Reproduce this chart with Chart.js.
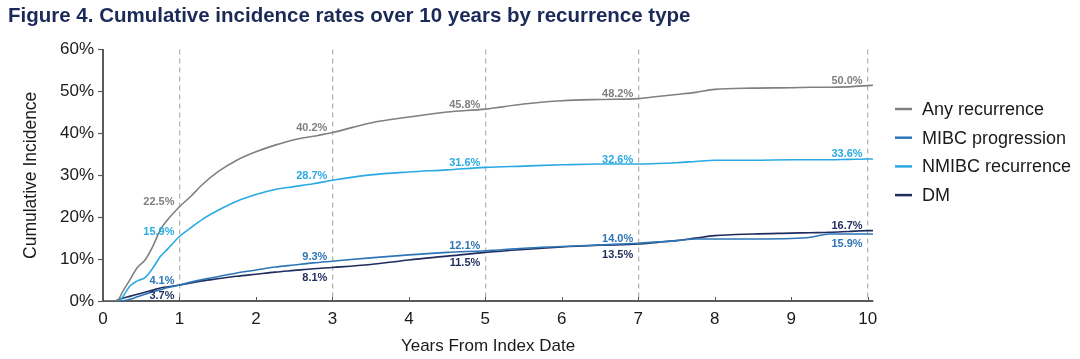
<!DOCTYPE html>
<html>
<head>
<meta charset="utf-8">
<title>Figure 4</title>
<script src="https://cdn.jsdelivr.net/npm/chart.js@4.4.0/dist/chart.umd.min.js"></script>
<style>
    html, body { margin: 0; padding: 0; background: #fff; }
    #wrap { width: 1080px; height: 359px; }
</style>
</head>
<body>
<div id="wrap"><canvas id="cif-chart" width="1080" height="359"></canvas></div>
<script>
// years from index date (x) and cumulative incidence in % (y)
const years = [0, 0.15, 0.2, 0.25, 0.35, 0.45, 0.55, 0.65, 0.75, 0.85, 1, 1.15, 1.3, 1.5, 1.75, 2, 2.25, 2.5, 2.75, 3,
    3.5, 4, 4.5, 5, 5.5, 6, 6.5, 7, 7.25, 7.5, 7.75, 8, 8.5, 9, 9.25, 9.5, 9.75, 10, 10.07];
const anyRecurrence = [0, 0, 0.3, 2, 5, 8, 9.8, 13, 17, 19.5, 22.5, 25, 27.8, 30.8, 33.6, 35.6, 37.2, 38.5, 39.3, 40.2,
    42.5, 43.9, 45.1, 45.8, 47.0, 47.8, 48.1, 48.3, 48.8, 49.3, 49.8, 50.5, 50.8, 50.9, 51.0, 51.0, 51.1, 51.4, 51.5];
const mibcProgression = [0, 0, 0, 0, 0.4, 1.0, 1.6, 2.2, 2.7, 3.2, 3.8, 4.5, 5.1, 5.8, 6.7, 7.4, 8.1, 8.6, 9.1, 9.5,
    10.3, 11.0, 11.6, 12.0, 12.6, 13.0, 13.4, 13.8, 14.1, 14.4, 14.8, 14.8, 14.8, 14.9, 15.2, 16.0, 16.0, 16.0, 16.0];
const nmibcRecurrence = [0, 0, 0, 0.8, 3.5, 4.8, 5.6, 7.8, 10.6, 12.5, 15.4, 17.5, 19.5, 21.6, 23.8, 25.4, 26.6, 27.3, 28.0, 28.8,
    30.1, 30.8, 31.3, 31.9, 32.2, 32.5, 32.7, 32.7, 32.8, 33.0, 33.3, 33.6, 33.6, 33.7, 33.7, 33.7, 33.8, 33.9, 33.9];
const distantMets = [0, 0, 0.3, 0.6, 1.1, 1.6, 2.1, 2.6, 3.1, 3.4, 3.8, 4.3, 4.8, 5.3, 5.9, 6.4, 6.9, 7.3, 7.7, 8.0,
    8.7, 9.8, 10.7, 11.6, 12.3, 12.9, 13.3, 13.6, 14.0, 14.4, 15.0, 15.6, 16.0, 16.2, 16.3, 16.4, 16.6, 16.8, 16.8];

// annotated time points and their printed values
const markYears = [1, 3, 5, 7, 10];
const anyMarks = ['22.5%', '40.2%', '45.8%', '48.2%', '50.0%'];
const mibcMarks = ['4.1%', '9.3%', '12.1%', '14.0%', '15.9%'];
const nmibcMarks = ['15.9%', '28.7%', '31.6%', '32.6%', '33.6%'];
const dmMarks = ['3.7%', '8.1%', '11.5%', '13.5%', '16.7%'];

const xTicks = [0, 1, 2, 3, 4, 5, 6, 7, 8, 9, 10];
const dashedYears = [1, 3, 5, 7, 10];

const FONT = '"Liberation Sans", Arial, sans-serif';

function toPoints(values) {
    return years.map((x, i) => ({ x: x, y: values[i] }));
}

function series(label, values, color, marks, below) {
    return {
        label: label,
        data: toPoints(values),
        borderColor: color,
        backgroundColor: color,
        borderWidth: 1.6,
        pointRadius: 0,
        cubicInterpolationMode: 'monotone',
        fill: false,
        marks: marks,
        below: below
    };
}

const valueLabels = {
    id: 'valueLabels',
    afterDatasetsDraw(chart) {
        const ctx = chart.ctx;
        const xs = chart.scales.x, ys = chart.scales.y;
        ctx.save();
        ctx.font = 'bold 11px ' + FONT;
        ctx.textAlign = 'right';
        ctx.textBaseline = 'middle';
        chart.data.datasets.forEach(ds => {
            ds.marks.forEach((txt, i) => {
                const yr = markYears[i];
                const pt = ds.data.find(p => p.x === yr);
                ctx.fillStyle = ds.borderColor;
                ctx.fillText(txt, xs.getPixelForValue(yr) - 5, ys.getPixelForValue(pt.y) + (ds.below[i] ? 10.5 : -4.5));
            });
        });
        ctx.restore();
    }
};

const sideLegend = {
    id: 'sideLegend',
    afterDraw(chart) {
        const ctx = chart.ctx;
        const xs = chart.scales.x;
        // small inward tick marks on the x axis
        ctx.save();
        ctx.strokeStyle = '#555';
        ctx.lineWidth = 1;
        xTicks.forEach(v => {
            const px = Math.round(xs.getPixelForValue(v)) + 0.5;
            ctx.beginPath();
            ctx.moveTo(px, xs.top);
            ctx.lineTo(px, xs.top - 4);
            ctx.stroke();
        });
        // legend
        const x0 = chart.chartArea.right + 22;
        ctx.font = '18px ' + FONT;
        ctx.textBaseline = 'middle';
        ctx.textAlign = 'left';
        chart.data.datasets.forEach((ds, i) => {
            const y = 109 + i * 28.7;
            ctx.strokeStyle = ds.borderColor;
            ctx.lineWidth = 2.5;
            ctx.beginPath();
            ctx.moveTo(x0, y);
            ctx.lineTo(x0 + 17, y);
            ctx.stroke();
            ctx.fillStyle = '#1a1a1a';
            ctx.fillText(ds.label, x0 + 27, y + 1);
        });
        ctx.restore();
    }
};

document.addEventListener('DOMContentLoaded', function () {
    const ctxCif = document.getElementById('cif-chart').getContext('2d');
    new Chart(ctxCif, {
        type: 'line',
        data: {
            datasets: [
                series('Any recurrence', anyRecurrence, '#808080', anyMarks, [false, false, false, false, false]),
                series('MIBC progression', mibcProgression, '#2e75b6', mibcMarks, [false, false, false, false, true]),
                series('NMIBC recurrence', nmibcRecurrence, '#2aaae2', nmibcMarks, [false, false, false, false, false]),
                series('DM', distantMets, '#1f2c5e', dmMarks, [true, true, true, true, false])
            ]
        },
        options: {
            responsive: false,
            animation: false,
            devicePixelRatio: 1,
            layout: { padding: { left: 8, right: 207, top: 0, bottom: 0 } },
            plugins: {
                legend: { display: false },
                tooltip: { enabled: false },
                title: {
                    display: true,
                    text: 'Figure 4. Cumulative incidence rates over 10 years by recurrence type',
                    align: 'start',
                    color: '#1b2a58',
                    font: { family: FONT, size: 20.5, weight: 'bold' },
                    padding: { top: 4, bottom: 21 }
                }
            },
            scales: {
                x: {
                    type: 'linear',
                    min: 0,
                    max: 10.07,
                    afterBuildTicks: scale => { scale.ticks = xTicks.map(v => ({ value: v })); },
                    afterFit: scale => { scale.height = 58; },
                    ticks: {
                        color: '#1a1a1a',
                        font: { family: FONT, size: 17 },
                        padding: 8,
                        maxRotation: 0
                    },
                    grid: {
                        drawTicks: false,
                        lineWidth: 1.3,
                        color: c => dashedYears.includes(c.tick && c.tick.value) ? '#b5b5b5' : 'rgba(0,0,0,0)'
                    },
                    border: { display: true, color: '#5a5a5a', width: 2, dash: [5, 4] },
                    title: {
                        display: true,
                        text: 'Years From Index Date',
                        color: '#1a1a1a',
                        font: { family: FONT, size: 17 },
                        padding: { top: 0, bottom: 2 }
                    }
                },
                y: {
                    min: 0,
                    max: 60,
                    afterFit: scale => { scale.width = 95; },
                    ticks: {
                        stepSize: 10,
                        color: '#1a1a1a',
                        font: { family: FONT, size: 17 },
                        padding: 4,
                        callback: v => v + '%'
                    },
                    grid: {
                        drawOnChartArea: false,
                        drawTicks: true,
                        tickLength: 5,
                        tickColor: '#5a5a5a',
                        tickWidth: 1.2
                    },
                    border: { display: true, color: '#5a5a5a', width: 2 },
                    title: {
                        display: true,
                        text: 'Cumulative Incidence',
                        color: '#1a1a1a',
                        font: { family: FONT, size: 17.5 },
                        padding: { top: 13, bottom: 0 }
                    }
                }
            }
        },
        plugins: [valueLabels, sideLegend]
    });
});
</script>
</body>
</html>
